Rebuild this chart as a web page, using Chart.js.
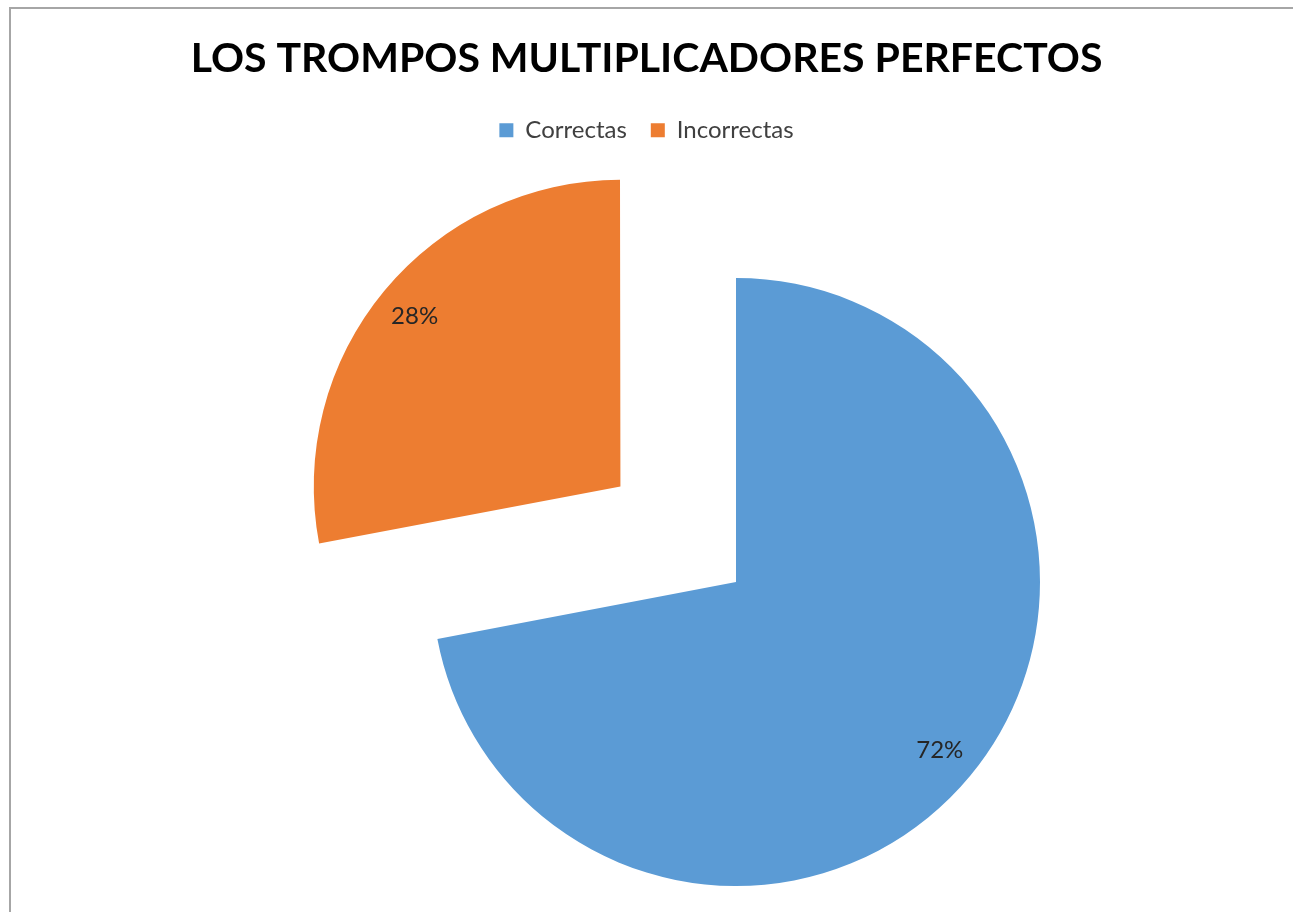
<!DOCTYPE html>
<html lang="es">
<head>
  <meta charset="UTF-8">
  <title>Los trompos multiplicadores perfectos</title>
  <style>
    body {
      margin: 0;
      background-color: white;
      font-family: 'Lato', sans-serif;
    }
    .wrap {
      position: relative;
      width: 1293px;
      height: 912px;
    }
    .frame {
      position: absolute;
      left: 9px;
      top: 7px;
      right: -5px;
      bottom: -5px;
      border-left: 2px solid #a6a6a6;
      border-top: 2px solid #a6a6a6;
      pointer-events: none;
    }
  </style>
  <script src="https://cdn.jsdelivr.net/npm/chart.js"></script>
</head>
<body>
  <div class="wrap">
    <canvas id="pieChart" width="1293" height="912"></canvas>
    <div class="frame"></div>
  </div>

  <script>
    const categories = ['Correctas', 'Incorrectas'];
    const values = [72, 28];
    const percentLabels = ['72%', '28%'];
    const sliceColors = ['#5B9BD5', '#ED7D31'];
    const explode = [0, 600];

    // Excel puts the pie off the title's centre, so move the chart area
    const pieCentre = { x: 736, y: 582 };
    const shiftArea = {
      id: 'shiftArea',
      afterLayout(chart) {
        const a = chart.chartArea;
        const dx = pieCentre.x - (a.left + a.right) / 2;
        const dy = pieCentre.y - (a.top + a.bottom) / 2;
        a.left += dx; a.right += dx;
        a.top += dy; a.bottom += dy;
      }
    };

    // percentage labels, drawn inside each slice
    const sliceLabels = {
      id: 'sliceLabels',
      afterDatasetsDraw(chart) {
        const ctx = chart.ctx;
        const meta = chart.getDatasetMeta(0);
        ctx.save();
        ctx.font = '24px Lato';
        ctx.fillStyle = '#262626';
        ctx.textAlign = 'center';
        ctx.textBaseline = 'middle';
        meta.data.forEach((arc, i) => {
          const p = arc.getProps(['x', 'y', 'startAngle', 'endAngle', 'outerRadius', 'circumference']);
          const mid = (p.startAngle + p.endAngle) / 2;
          const off = (arc.options.offset || 0) / 4;
          const fix = 1 - Math.sin(Math.min(Math.PI, p.circumference || 0));
          const d = off * (1 + fix) + p.outerRadius * 0.87;
          ctx.fillText(percentLabels[i], p.x + Math.cos(mid) * d, p.y + Math.sin(mid) * d);
        });
        ctx.restore();
      }
    };

    const ctx = document.getElementById('pieChart').getContext('2d');
    const pieChart = new Chart(ctx, {
      type: 'pie',
      data: {
        labels: categories,
        datasets: [{
          data: values,
          backgroundColor: sliceColors,
          borderWidth: 0,
          offset: explode,
          hoverOffset: 0
        }]
      },
      options: {
        responsive: false,
        animation: false,
        radius: 304,
        layout: {
          padding: { top: 34, bottom: 0 }
        },
        plugins: {
          title: {
            display: true,
            text: 'LOS TROMPOS MULTIPLICADORES PERFECTOS',
            color: '#000',
            font: { family: 'Lato', size: 41, weight: 'bold' },
            padding: { top: 0, bottom: 11 }
          },
          legend: {
            display: true,
            position: 'top',
            labels: {
              color: '#404040',
              font: { family: 'Lato', size: 24 },
              boxWidth: 14,
              boxHeight: 14,
              padding: 24
            }
          },
          tooltip: { enabled: false }
        }
      },
      plugins: [shiftArea, sliceLabels]
    });
  </script>
</body>
</html>
